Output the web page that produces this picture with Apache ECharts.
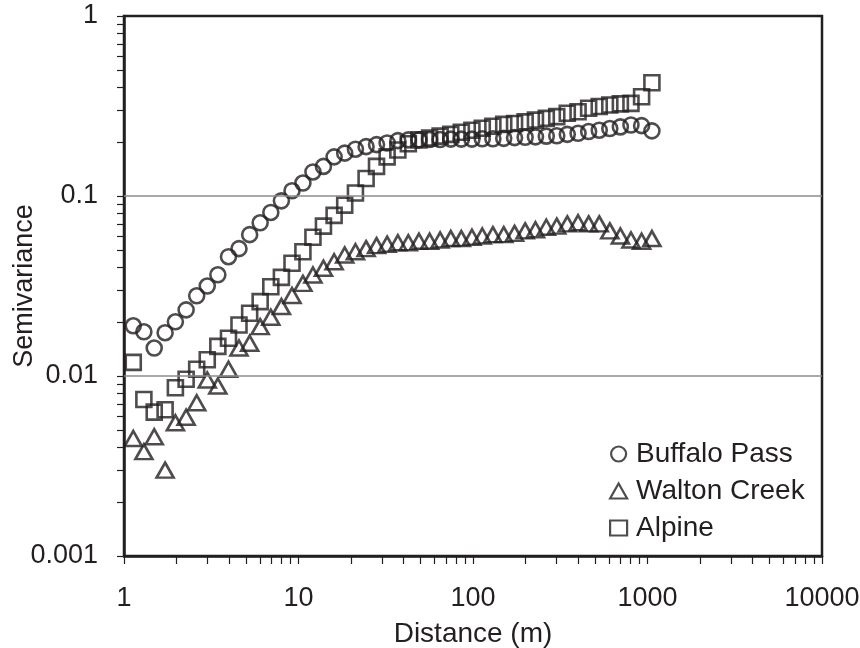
<!DOCTYPE html>
<html>
<head>
<meta charset="utf-8">
<script src="https://cdn.jsdelivr.net/npm/echarts@6/dist/echarts.min.js"></script>
<style>
    html, body { margin: 0; padding: 0; background: #fff; }
    #chart_semivar { width: 860px; height: 648px; }
</style>
</head>
<body>
<div id="chart_semivar"></div>
<script>
// lag distance (m), shared by the three sites
var lagDist = [1.13, 1.30, 1.49, 1.72, 1.97, 2.27, 2.61, 3.00, 3.45, 3.97,
    4.56, 5.25, 6.03, 6.94, 7.98, 9.18, 10.6, 12.1, 13.9, 16.0,
    18.4, 21.2, 24.4, 28.0, 32.2, 37.1, 42.6, 49.0, 56.4, 64.8,
    74.6, 85.7, 98.6, 113, 130, 150, 173, 199, 228, 263,
    302, 347, 400, 460, 529, 608, 699, 804, 925, 1060];

var buffaloPass = [0.019, 0.0176, 0.0143, 0.0174, 0.020, 0.0233, 0.0279, 0.0316, 0.0365, 0.046,
    0.051, 0.061, 0.071, 0.081, 0.094, 0.107, 0.118, 0.136, 0.146, 0.165,
    0.173, 0.182, 0.188, 0.193, 0.197, 0.203, 0.205, 0.205, 0.206, 0.206,
    0.207, 0.207, 0.207, 0.208, 0.208, 0.209, 0.211, 0.212, 0.213, 0.215,
    0.216, 0.220, 0.223, 0.228, 0.232, 0.237, 0.242, 0.248, 0.246, 0.230];

var waltonCreek = [0.0045, 0.0038, 0.0046, 0.0030, 0.0055, 0.0059, 0.0071, 0.0095, 0.0088, 0.0109,
    0.0143, 0.0152, 0.0188, 0.0212, 0.0243, 0.028, 0.0327, 0.0364, 0.0397, 0.0431,
    0.047, 0.049, 0.051, 0.053, 0.054, 0.055, 0.055, 0.056, 0.056, 0.057,
    0.058, 0.058, 0.059, 0.060, 0.061, 0.061, 0.062, 0.064, 0.065, 0.067,
    0.068, 0.070, 0.071, 0.070, 0.070, 0.064, 0.060, 0.057, 0.056, 0.058];

var alpine = [0.0119, 0.0074, 0.0063, 0.0065, 0.0086, 0.0096, 0.0109, 0.0123, 0.0146, 0.0162,
    0.0192, 0.0223, 0.0259, 0.0313, 0.0353, 0.0423, 0.049, 0.059, 0.068, 0.078,
    0.089, 0.104, 0.125, 0.146, 0.165, 0.180, 0.195, 0.205, 0.210, 0.215,
    0.220, 0.226, 0.232, 0.238, 0.244, 0.250, 0.253, 0.258, 0.264, 0.270,
    0.276, 0.288, 0.294, 0.307, 0.314, 0.320, 0.325, 0.327, 0.356, 0.426];

// tick labels and tick marks (log decades + 2..9 minors)
var xLabels = [1, 10, 100, 1000, 10000];
var yLabels = [0.001, 0.01, 0.1, 1];
var xTicks = [1, 2, 3, 4, 5, 6, 7, 8, 9, 10, 20, 30, 40, 50, 60, 70, 80, 90,
    100, 200, 300, 400, 500, 600, 700, 800, 900, 1000, 2000, 3000, 4000, 5000,
    6000, 7000, 8000, 9000, 10000];
var yTicks = [0.001, 0.002, 0.003, 0.004, 0.005, 0.006, 0.007, 0.008, 0.009,
    0.01, 0.02, 0.03, 0.04, 0.05, 0.06, 0.07, 0.08, 0.09,
    0.1, 0.2, 0.3, 0.4, 0.5, 0.6, 0.7, 0.8, 0.9, 1];
var gridLines = [0.1, 0.01];

var inkColor = '#231f20';
var fontName = '"Liberation Sans", Arial, sans-serif';

function toPairs(ys) {
    var arr = [];
    for (var i = 0; i < ys.length; i++) {
        arr.push([lagDist[i], ys[i]]);
    }
    return arr;
}

function markerStyle() {
    return {
        color: 'rgba(0,0,0,0)',
        borderColor: inkColor,
        borderWidth: 2.6
    };
}

var chart_semivar = echarts.init(document.getElementById('chart_semivar'));

var option = {
    animation: false,
    backgroundColor: '#fff',
    textStyle: { fontFamily: fontName },
    grid: {
        left: 124,
        right: 38,
        top: 16,
        bottom: 92,
        containLabel: false,
        outerBoundsMode: 'none',
        show: true,
        borderColor: inkColor,
        borderWidth: 2.5,
        backgroundColor: 'transparent'
    },
    legend: {
        orient: 'vertical',
        left: 604,
        top: 435,
        itemWidth: 17,
        itemHeight: 15,
        itemGap: 9,
        itemStyle: { color: 'rgba(0,0,0,0)', borderColor: inkColor, borderWidth: 2.2 },
        textStyle: { fontSize: 28, color: inkColor, fontFamily: fontName, padding: [0, 0, 0, 4] },
        data: [
            { name: 'Buffalo Pass', icon: 'circle' },
            { name: 'Walton Creek', icon: 'triangle' },
            { name: 'Alpine', icon: 'rect' }
        ]
    },
    xAxis: {
        type: 'log',
        logBase: 10,
        min: 1,
        max: 10000,
        name: 'Distance (m)',
        nameLocation: 'middle',
        nameGap: 64,
        nameMoveOverlap: false,
        nameTextStyle: { fontSize: 28, color: inkColor, fontFamily: fontName },
        axisLine: { show: true, lineStyle: { color: inkColor, width: 2.5 } },
        axisTick: { show: true, length: 8, customValues: xTicks, lineStyle: { color: inkColor, width: 1.2 } },
        axisLabel: {
            customValues: xLabels,
            margin: 29,
            fontSize: 27,
            color: inkColor,
            fontFamily: fontName,
            formatter: function (v) { return String(Math.round(v)); }
        },
        splitLine: { show: false }
    },
    yAxis: {
        type: 'log',
        logBase: 10,
        min: 0.001,
        max: 1,
        name: 'Semivariance',
        nameLocation: 'middle',
        nameGap: 86,
        nameRotate: 90,
        nameMoveOverlap: false,
        nameTextStyle: { fontSize: 27, color: inkColor, fontFamily: fontName },
        axisLine: { show: true, lineStyle: { color: inkColor, width: 2.5 } },
        axisTick: { show: true, length: 7, customValues: yTicks, lineStyle: { color: inkColor, width: 1.2 } },
        axisLabel: {
            customValues: yLabels,
            margin: 26,
            fontSize: 27,
            color: inkColor,
            fontFamily: fontName,
            formatter: function (v) { return String(+Number(v).toPrecision(3)); }
        },
        splitLine: { show: false }
    },
    series: [
        {
            name: 'Buffalo Pass',
            type: 'scatter',
            symbol: 'circle',
            symbolSize: 15,
            itemStyle: markerStyle(),
            data: toPairs(buffaloPass),
            markLine: {
                silent: true,
                symbol: ['none', 'none'],
                label: { show: false },
                lineStyle: { color: '#8c8c8c', width: 1.5, type: 'solid' },
                data: gridLines.map(function (v) { return { yAxis: v }; })
            }
        },
        {
            name: 'Walton Creek',
            type: 'scatter',
            symbol: 'triangle',
            symbolSize: [17, 15],
            itemStyle: markerStyle(),
            data: toPairs(waltonCreek)
        },
        {
            name: 'Alpine',
            type: 'scatter',
            symbol: 'rect',
            symbolSize: 15,
            itemStyle: markerStyle(),
            data: toPairs(alpine)
        }
    ]
};
chart_semivar.setOption(option);
</script>
</body>
</html>
